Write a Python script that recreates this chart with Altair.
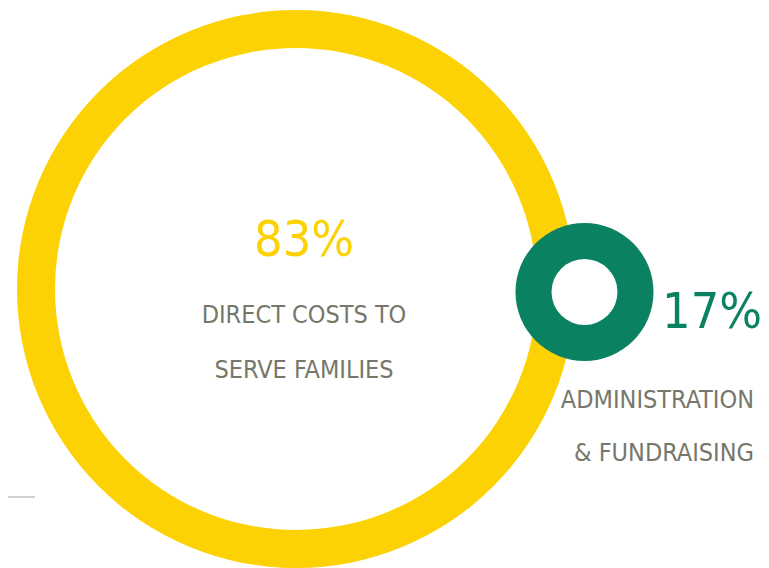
import math
import altair as alt
import pandas as pd

# ---- data ----
categories = ["Direct costs to serve families", "Administration & fundraising"]
values = [83, 17]
pct_labels = ["83%", "17%"]
line1 = ["DIRECT COSTS TO", "ADMINISTRATION"]
line2 = ["SERVE FAMILIES", "& FUNDRAISING"]

df = pd.DataFrame({
    "category": categories,
    "value": values,
    "pct": pct_labels,
    "line1": line1,
    "line2": line2,
})

YELLOW = "#FDD204"
GREEN = "#0A8262"
GREY = "#76776A"
FONT = "DejaVu Sans Condensed, Liberation Sans Narrow, sans-serif"

xs = alt.X("category:N", scale=alt.Scale(type="point", domain=categories,
                                          range=[288, 576.5], padding=0), axis=None)
ys = alt.Y("category:N", scale=alt.Scale(type="point", domain=categories,
                                          range=[281, 284], padding=0), axis=None)
colors = alt.Color("category:N", scale=alt.Scale(domain=categories, range=[YELLOW, GREEN]),
                   legend=None)

base = alt.Chart(df).encode(x=xs, y=ys)

big = base.transform_filter(alt.datum.category == categories[0])
small = base.transform_filter(alt.datum.category == categories[1])

full = dict(theta=alt.value(0), theta2=alt.value(2 * math.pi))

ring_big = big.mark_arc(radius=279, radius2=241).encode(color=colors, **full)
disk_small = small.mark_arc(radius=69).encode(color=colors, **full)
hole_small = small.mark_arc(radius=33, color="white").encode(**full)

pct_big = big.mark_text(font=FONT, fontSize=50, align="center", baseline="alphabetic",
                        dx=8, dy=-33, color=YELLOW).encode(text="pct:N")
l1_big = big.mark_text(font=FONT, fontSize=25, align="center", baseline="alphabetic",
                       dx=8, dy=34, color=GREY).encode(text="line1:N")
l2_big = big.mark_text(font=FONT, fontSize=25, align="center", baseline="alphabetic",
                       dx=8, dy=88.6, color=GREY).encode(text="line2:N")

pct_small = small.mark_text(font=FONT, fontSize=50, align="right", baseline="alphabetic",
                            dx=177.5, dy=36, color=GREEN).encode(text="pct:N")
l1_small = small.mark_text(font=FONT, fontSize=25, align="right", baseline="alphabetic",
                           dx=169.5, dy=115.6, color=GREY).encode(text="line1:N")
l2_small = small.mark_text(font=FONT, fontSize=25, align="right", baseline="alphabetic",
                           dx=169.5, dy=168.6, color=GREY).encode(text="line2:N")

deco = alt.Chart(df.head(1)).mark_rule(color="#D0D0CC", strokeWidth=2).encode(
    x=alt.value(0), x2=alt.value(27), y=alt.value(489))

chart = alt.layer(
    ring_big, disk_small, hole_small, deco,
    pct_big, l1_big, l2_big, pct_small, l1_small, l2_small,
).properties(
    width=753, height=560, padding=0, background="white",
    autosize=alt.AutoSizeParams(type="none"),
).configure_view(strokeWidth=0, strokeOpacity=0)

chart.save("out.html", embed_options={"renderer": "svg", "actions": False})
